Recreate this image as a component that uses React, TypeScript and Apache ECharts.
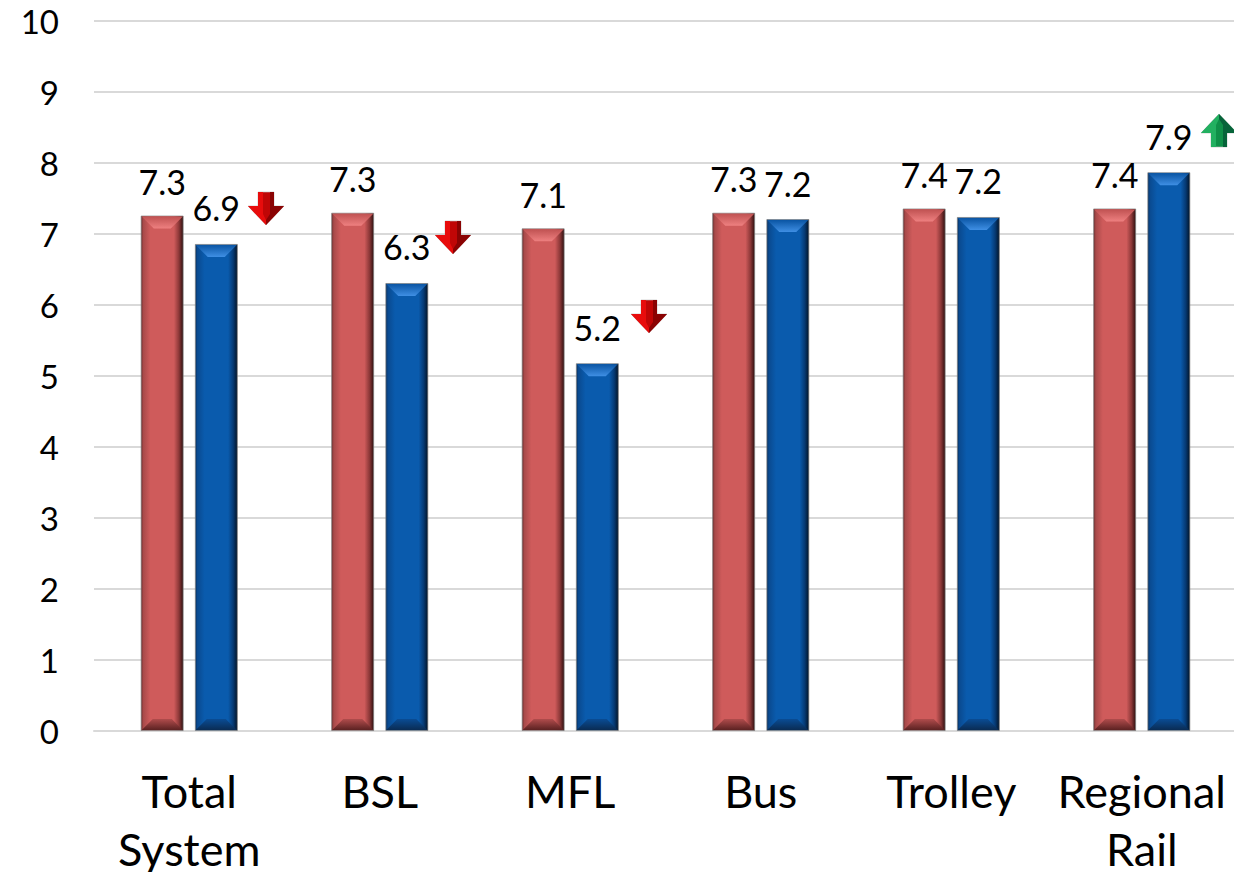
import React, { useEffect, useRef } from "react";
import * as echarts from "echarts";

const categories = ["Total\nSystem", "BSL", "MFL", "Bus", "Trolley", "Regional\nRail"];
const seriesA = [7.26, 7.3, 7.08, 7.3, 7.36, 7.36];
const seriesB = [6.86, 6.31, 5.18, 7.21, 7.24, 7.87];
const yTicks = { min: 0, max: 10, interval: 1 };
const FONT = "Lato, Carlito, sans-serif";
const BAR_W = 43;
const BAR_OFFSET = 27;

const hGrad = (stops: [number, string][]) => ({
  type: "linear", x: 0, y: 0, x2: 1, y2: 0,
  colorStops: stops.map(([offset, color]) => ({ offset, color })),
});
const vGrad = (stops: [number, string][]) => ({
  type: "linear", x: 0, y: 0, x2: 0, y2: 1,
  colorStops: stops.map(([offset, color]) => ({ offset, color })),
});

const redBody = hGrad([[0, "#6a2a2a"], [0.05, "#a84a4a"], [0.22, "#cf5b5b"], [0.78, "#cf5b5b"], [0.9, "#8c3838"], [1, "#2e1010"]]);
const blueBody = hGrad([[0, "#07305f"], [0.05, "#0a4a90"], [0.22, "#0a5bad"], [0.78, "#0a5bad"], [0.9, "#063a74"], [1, "#021428"]]);

const bevel = (offset: number, topStops: [number, string][], bottomStops: [number, string][]) => (params: any, api: any) => {
  const c = api.coord([api.value(0), api.value(1)]);
  const base = api.coord([api.value(0), 0]);
  const l = c[0] + offset - BAR_W / 2;
  const r = l + BAR_W;
  const dTop = 13;
  const dBottom = 12;
  return {
    type: "group",
    silent: true,
    children: [
      { type: "polygon", shape: { points: [[l + 1, c[1] + 1], [r - 1, c[1] + 1], [r - dTop, c[1] + dTop], [l + dTop, c[1] + dTop]] },
        style: { fill: vGrad(topStops) } },
      { type: "polygon", shape: { points: [[l + 1, base[1] - 1], [r - 1, base[1] - 1], [r - dBottom, base[1] - dBottom], [l + dBottom, base[1] - dBottom]] },
        style: { fill: vGrad(bottomStops) } },
    ],
  };
};

const arrow = (cx: number, cy: number, up: boolean, bright: string, mid: string, dark: string) => {
  const s = up ? -1 : 1;
  const y = (v: number) => cy + s * v;
  return {
    type: "group",
    z: 20,
    children: [
      { type: "polygon", z: 20, shape: { points: [[cx - 8, y(-16)], [cx + 8, y(-16)], [cx + 8, y(-2)], [cx + 18, y(-2)], [cx, y(17)], [cx - 18, y(-2)], [cx - 8, y(-2)]] },
        style: { fill: mid, stroke: "#b9b9b9", lineWidth: 0.6 } },
      { type: "polygon", z: 21, shape: { points: [[cx - 8, y(-16)], [cx - 3, y(-16)], [cx - 3, y(6)], [cx, y(12)], [cx, y(17)], [cx - 18, y(-2)], [cx - 8, y(-2)]] },
        style: { fill: bright } },
      { type: "polygon", z: 21, shape: { points: [[cx + 4, y(-16)], [cx + 8, y(-16)], [cx + 8, y(-2)], [cx + 18, y(-2)], [cx, y(17)], [cx, y(12)], [cx + 4, y(6)]] },
        style: { fill: dark } },
    ],
  };
};

export default function App() {
  const ref = useRef<HTMLDivElement>(null);
  useEffect(() => {
    const chart = echarts.init(ref.current!, null, { renderer: "svg" });
    const label = (distance: number) => ({
      show: true, position: "top" as const, distance, fontFamily: FONT, fontSize: 34, color: "#000",
      formatter: (p: any) => Number(p.value).toFixed(1),
    });
    const border = { borderColor: "rgba(130,130,130,0.7)", borderWidth: 1 };
    chart.setOption({
      animation: false,
      grid: { left: 94, right: -3, top: 21, bottom: 141, outerBoundsMode: "none" },
      xAxis: {
        type: "category", data: categories,
        axisTick: { show: false },
        axisLine: { lineStyle: { color: "#d9d9d9", width: 2 } },
        axisLabel: { fontFamily: FONT, fontSize: 45, color: "#000", lineHeight: 58, margin: 31, interval: 0 },
      },
      yAxis: {
        type: "value", ...yTicks,
        axisLine: { show: false }, axisTick: { show: false },
        splitLine: { lineStyle: { color: "#d9d9d9", width: 2 } },
        axisLabel: { fontFamily: FONT, fontSize: 33, color: "#000", margin: 35 },
      },
      series: [
        { type: "bar", data: seriesA, barWidth: BAR_W, barGap: "26%", itemStyle: { color: redBody, ...border }, label: label(17) },
        { type: "bar", data: seriesB, barWidth: BAR_W, barGap: "26%", itemStyle: { color: blueBody, ...border }, label: label(19) },
        { type: "custom", data: seriesA.map((v, i) => [i, v]), encode: { x: 0, y: 1 }, z: 3, silent: true,
          renderItem: bevel(-BAR_OFFSET, [[0, "#c05252"], [1, "#ee8080"]], [[0, "#b04c4c"], [1, "#5c2222"]]) },
        { type: "custom", data: seriesB.map((v, i) => [i, v]), encode: { x: 0, y: 1 }, z: 3, silent: true,
          renderItem: bevel(BAR_OFFSET, [[0, "#0a55a4"], [1, "#3f8fe4"]], [[0, "#0a4c94"], [1, "#0a2c54"]]) },
      ],
      graphic: [
        arrow(266, 208, false, "#e80c0c", "#c00606", "#8a0303"),
        arrow(453, 237, false, "#e80c0c", "#c00606", "#8a0303"),
        arrow(649, 316, false, "#e80c0c", "#c00606", "#8a0303"),
        arrow(1219, 131, true, "#22b060", "#0f9048", "#07643a"),
      ],
    });
    return () => chart.dispose();
  }, []);
  return <div ref={ref} style={{ position: "fixed", left: 0, top: 0, width: 1234, height: 872, background: "#fff" }} />;
}
